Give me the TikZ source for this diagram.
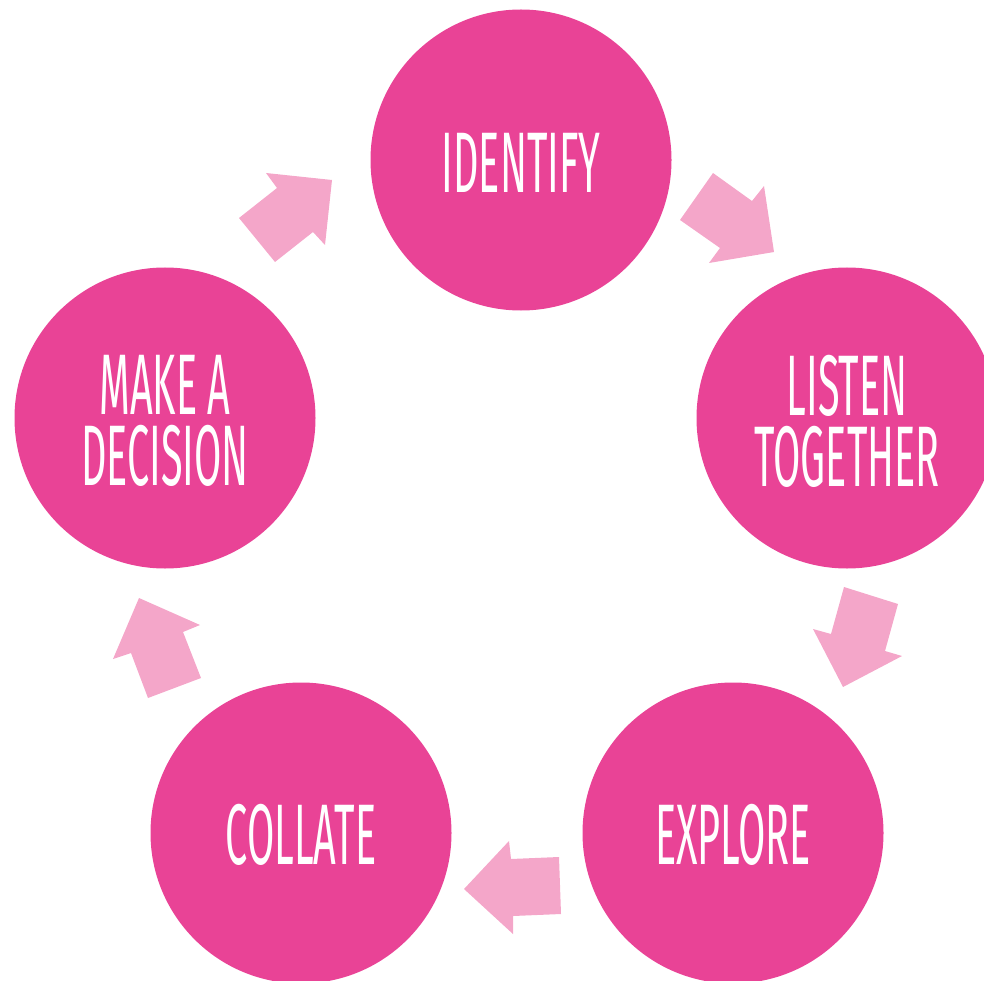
\documentclass[tikz,border=0pt]{standalone}
\usepackage{fontspec}
\newfontfamily\condfont[FakeStretch=0.46]{Fira Sans}
\definecolor{circpink}{RGB}{233,67,150}
\definecolor{arrpink}{RGB}{244,166,201}
\begin{document}
\begin{tikzpicture}[x=1pt,y=-1pt,
  stage/.style={circle,fill=circpink,minimum size=301pt,inner sep=0pt},
  stagetext/.style={inner sep=0pt,text=white,align=center,
    font=\condfont\fontsize{86}{71}\selectfont},
  blockarrow/.style={fill=arrpink,draw=none}]
\useasboundingbox (0,0) rectangle (984,981);
\node[stage] (identify) at (521,160) {};
\node[stage] (listen) at (847,418) {};
\node[stage] (explore) at (733,833) {};
\node[stage] (collate) at (301,833) {};
\node[stage] (decide) at (165,418) {};
\node[stagetext] (identifyT) at ([yshift=-3pt]identify.center) {IDENTIFY};
\node[stagetext] (listenT) at ([yshift=-3pt]listen.center) {LISTEN\\TOGETHER};
\node[stagetext] (exploreT) at ([yshift=-2pt]explore.center) {EXPLORE};
\node[stagetext] (collateT) at ([yshift=-2pt]collate.center) {COLLATE};
\node[stagetext] (decideT) at ([yshift=-3pt]decide.center) {MAKE A\\DECISION};
% block arrows
\fill[blockarrow] (332,180) -- (266,173) -- (277,188) -- (239,218) -- (275,262) -- (313,232) -- (325,245) -- cycle;
\fill[blockarrow] (774,252) -- (764,186) -- (752,201) -- (713,173) -- (680,220) -- (720,248) -- (709,263) -- cycle;
\fill[blockarrow] (843,687) -- (902,656) -- (885,651) -- (898,604) -- (844,587) -- (831,634) -- (813,629) -- cycle;
\fill[blockarrow] (464,889) -- (509,841) -- (511,859) -- (559,857) -- (561,914) -- (513,916) -- (513,934) -- cycle;
\fill[blockarrow] (139,598) -- (200,625) -- (183,632) -- (201,678) -- (148,698) -- (131,653) -- (113,659) -- cycle;
\end{tikzpicture}
\end{document}
